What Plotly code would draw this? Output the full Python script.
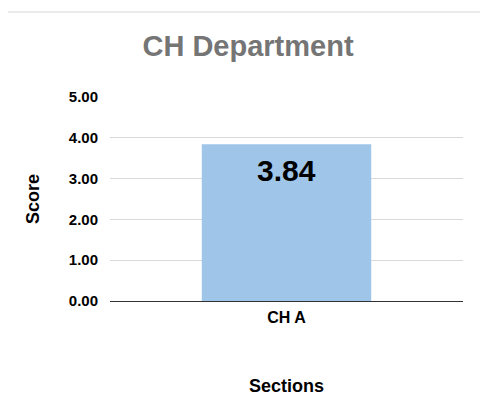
import plotly.graph_objects as go

sections = ["CH A"]
scores = [3.84]
y_ticks = [0, 1, 2, 3, 4, 5]
y_tick_labels = ["0.00", "1.00", "2.00", "3.00", "4.00", "5.00"]

font = "Liberation Sans, Arial, sans-serif"

fig = go.Figure(go.Bar(
    x=sections, y=scores, marker_color="#9fc5e8", marker_line_width=0,
    width=0.48, hoverinfo="x+y",
))

for s, v in zip(sections, scores):
    fig.add_annotation(x=s, y=v, text=f"<b>{v:.2f}</b>", showarrow=False,
                       yanchor="top", yshift=-8,
                       font=dict(family=font, size=30, color="#000000"))

# thin grey line across the top of the card
fig.add_shape(type="line", xref="paper", yref="paper",
              x0=-0.300, x1=1.0595, y0=1.4167, y1=1.4167,
              line=dict(color="#d9d9d9", width=1))

fig.update_layout(
    width=480, height=406,
    margin=dict(l=102, r=25, t=89, b=113),
    paper_bgcolor="white", plot_bgcolor="white",
    showlegend=False,
    font=dict(family=font, color="#000000"),
    title=dict(text="<b>CH Department</b>", x=0.5, xanchor="center",
               y=1 - 38 / 406, yanchor="middle", yref="container",
               font=dict(family=font, size=29, color="#757575")),
    xaxis=dict(
        title=dict(text="<b>Sections</b>", standoff=54,
                   font=dict(family=font, size=18, color="#000000")),
        tickfont=dict(family=font, size=16, color="#000000"),
        tickprefix="<b>", ticksuffix="</b>",
        ticks="outside", ticklen=2, tickcolor="rgba(0,0,0,0)",
        showgrid=False, showline=False, zeroline=False,
    ),
    yaxis=dict(
        title=dict(text="<b>Score</b>", standoff=24,
                   font=dict(family=font, size=18, color="#000000")),
        range=[0, 5], tickvals=y_ticks, ticktext=[f"<b>{t}</b>" for t in y_tick_labels],
        tickfont=dict(family=font, size=15, color="#000000"),
        ticks="outside", ticklen=8, tickcolor="rgba(0,0,0,0)",
        showgrid=True, gridcolor="#d9d9d9", gridwidth=1,
        zeroline=True, zerolinecolor="#333333", zerolinewidth=1,
        showline=False, fixedrange=True,
    ),
)

fig.write_html("out.html")
